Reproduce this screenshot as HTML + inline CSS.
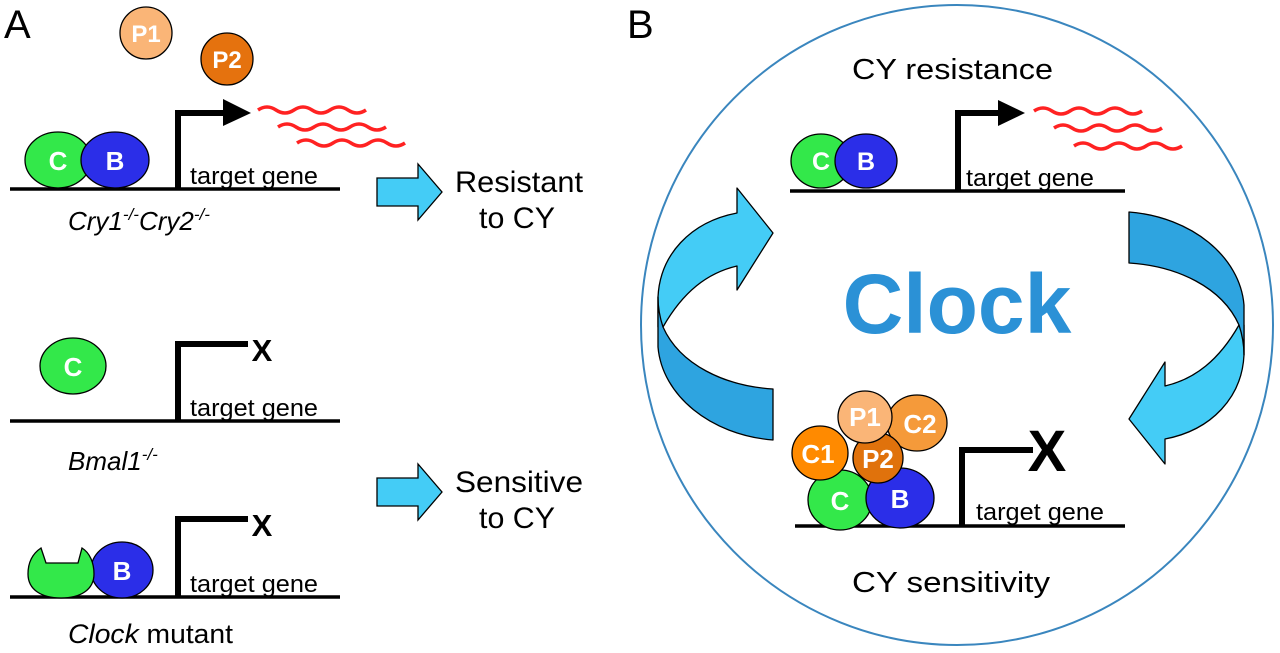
<!DOCTYPE html>
<html><head><style>body{margin:0;background:#fff}svg{display:block}text{font-family:"Liberation Sans",Arial,sans-serif}</style></head><body>
<svg width="1280" height="653" viewBox="0 0 1280 653" xmlns="http://www.w3.org/2000/svg">
<defs>
<g id="larrow" stroke="#000" stroke-width="1.3" stroke-linejoin="round">
<path d="M737,213 L737,188 L773,233 L737,290 L737,266 C707,273 683,292 663,327 L658,327 L658,297 C660,255 690,222 737,213 Z" fill="#44CCF6"/>
<path d="M658,297 L658,347 C662,395 710,435 773,440 L773,389 C725,386 680,365 663,327 C660,318 658,308 658,297 Z" fill="#2EA4E0"/>
</g>
</defs>
<!-- Panel A -->
<text x="4" y="38" font-size="40">A</text>
<circle cx="146" cy="33" r="26" fill="#FAB577" stroke="#000" stroke-width="1.3"/>
<text x="146" y="42" font-size="24" font-weight="bold" fill="#fff" text-anchor="middle">P1</text>
<circle cx="227" cy="59" r="26" fill="#E5720E" stroke="#000" stroke-width="1.3"/>
<text x="227" y="68" font-size="24" font-weight="bold" fill="#fff" text-anchor="middle">P2</text>
<line x1="10" y1="189" x2="340" y2="189" stroke="#000" stroke-width="3.5"/>
<ellipse cx="58" cy="160" rx="33" ry="28" fill="#33E84A" stroke="#000" stroke-width="1.3"/>
<text x="58" y="170" font-size="26" font-weight="bold" fill="#fff" text-anchor="middle">C</text>
<ellipse cx="115" cy="160" rx="34" ry="28" fill="#2B2EE8" stroke="#000" stroke-width="1.3"/>
<text x="115" y="170" font-size="26" font-weight="bold" fill="#fff" text-anchor="middle">B</text>
<path d="M178,189 V113 H228" fill="none" stroke="#000" stroke-width="6"/>
<path d="M223,99 L251,113 L223,126 Z" fill="#000"/>
<text x="190" y="184" font-size="24" textLength="128" lengthAdjust="spacingAndGlyphs">target gene</text>
<g fill="none" stroke="#F22" stroke-width="3.5">
<path d="M258,110 q9,-6 18,0 t18,0 t18,0 t18,0 t18,0 t18,0"/>
<path d="M278,127 q9,-6 18,0 t18,0 t18,0 t18,0 t18,0 t18,0"/>
<path d="M297,143 q9,-6 18,0 t18,0 t18,0 t18,0 t18,0 t18,0"/>
</g>
<text x="68" y="230" font-size="26" font-style="italic">Cry1<tspan font-size="17" dy="-10">-/-</tspan><tspan dy="10">Cry2</tspan><tspan font-size="17" dy="-10">-/-</tspan></text>
<path d="M377,178 H418 V164 L442,192 L418,220 V206 H377 Z" fill="#44CCF6" stroke="#000" stroke-width="1.3"/>
<text x="455" y="192" font-size="30" textLength="128" lengthAdjust="spacingAndGlyphs">Resistant</text>
<text x="479" y="228" font-size="30" textLength="76" lengthAdjust="spacingAndGlyphs">to CY</text>

<line x1="10" y1="421" x2="340" y2="421" stroke="#000" stroke-width="3.5"/>
<ellipse cx="73" cy="366" rx="33" ry="28" fill="#33E84A" stroke="#000" stroke-width="1.3"/>
<text x="73" y="376" font-size="26" font-weight="bold" fill="#fff" text-anchor="middle">C</text>
<path d="M178,421 V344 H248" fill="none" stroke="#000" stroke-width="6"/>
<text x="262" y="361" font-size="31" font-weight="bold" text-anchor="middle">X</text>
<text x="190" y="416" font-size="24" textLength="128" lengthAdjust="spacingAndGlyphs">target gene</text>
<text x="68" y="470" font-size="26" font-style="italic">Bmal1<tspan font-size="17" dy="-10">-/-</tspan></text>
<path d="M377,478 H418 V464 L442,492 L418,520 V506 H377 Z" fill="#44CCF6" stroke="#000" stroke-width="1.3"/>
<text x="455" y="492" font-size="30" textLength="128" lengthAdjust="spacingAndGlyphs">Sensitive</text>
<text x="479" y="528" font-size="30" textLength="76" lengthAdjust="spacingAndGlyphs">to CY</text>

<line x1="10" y1="597" x2="340" y2="597" stroke="#000" stroke-width="3.5"/>
<ellipse cx="122" cy="570" rx="31" ry="28" fill="#2B2EE8" stroke="#000" stroke-width="1.3"/>
<text x="122" y="580" font-size="26" font-weight="bold" fill="#fff" text-anchor="middle">B</text>
<path d="M41,548 L46,563 L78,563 L82,548 C90,553 94,563 94,574 C94,590 80,598 61,598 C42,598 28,590 28,574 C28,563 32,554 41,548 Z" fill="#33E84A" stroke="#000" stroke-width="1.3"/>
<path d="M178,597 V519 H248" fill="none" stroke="#000" stroke-width="6"/>
<text x="262" y="536" font-size="31" font-weight="bold" text-anchor="middle">X</text>
<text x="190" y="592" font-size="24" textLength="128" lengthAdjust="spacingAndGlyphs">target gene</text>
<text x="68" y="643" font-size="27" textLength="165" lengthAdjust="spacingAndGlyphs"><tspan font-style="italic">Clock</tspan> mutant</text>

<!-- Panel B -->
<text x="627" y="38" font-size="40">B</text>
<ellipse cx="957" cy="325" rx="316" ry="320" fill="none" stroke="#3A86BE" stroke-width="2"/>
<text x="852" y="79" font-size="29" textLength="201" lengthAdjust="spacingAndGlyphs">CY resistance</text>
<line x1="790" y1="191" x2="1125" y2="191" stroke="#000" stroke-width="3.5"/>
<ellipse cx="821" cy="161" rx="30" ry="27" fill="#33E84A" stroke="#000" stroke-width="1.3"/>
<text x="821" y="170" font-size="25" font-weight="bold" fill="#fff" text-anchor="middle">C</text>
<ellipse cx="866" cy="161" rx="31" ry="27" fill="#2B2EE8" stroke="#000" stroke-width="1.3"/>
<text x="866" y="170" font-size="25" font-weight="bold" fill="#fff" text-anchor="middle">B</text>
<path d="M958,191 V113 H1002" fill="none" stroke="#000" stroke-width="6"/>
<path d="M998,100 L1025,113 L998,126 Z" fill="#000"/>
<text x="966" y="186" font-size="24" textLength="128" lengthAdjust="spacingAndGlyphs">target gene</text>
<g fill="none" stroke="#F22" stroke-width="3.5">
<path d="M1034,111 q9,-6 18,0 t18,0 t18,0 t18,0 t18,0 t18,0"/>
<path d="M1054,128 q9,-6 18,0 t18,0 t18,0 t18,0 t18,0 t18,0"/>
<path d="M1074,146 q9,-6 18,0 t18,0 t18,0 t18,0 t18,0 t18,0"/>
</g>
<text x="957" y="333" font-size="84" font-weight="bold" fill="#2B91D6" text-anchor="middle">Clock</text>
<use href="#larrow"/>
<use href="#larrow" transform="rotate(180 951 326)"/>

<line x1="795" y1="526" x2="1125" y2="526" stroke="#000" stroke-width="3.5"/>
<path d="M962,526 V450 H1033" fill="none" stroke="#000" stroke-width="6"/>
<text x="1047" y="471" font-size="58" font-weight="bold" text-anchor="middle">X</text>
<text x="976" y="520" font-size="24" textLength="128" lengthAdjust="spacingAndGlyphs">target gene</text>
<ellipse cx="840" cy="500" rx="32" ry="30" fill="#33E84A" stroke="#000" stroke-width="1.3"/>
<text x="840" y="510" font-size="26" font-weight="bold" fill="#fff" text-anchor="middle">C</text>
<ellipse cx="900" cy="498" rx="34" ry="30" fill="#2B2EE8" stroke="#000" stroke-width="1.3"/>
<text x="900" y="508" font-size="26" font-weight="bold" fill="#fff" text-anchor="middle">B</text>
<ellipse cx="917" cy="423" rx="30" ry="28" fill="#F59A3A" stroke="#000" stroke-width="1.3"/>
<text x="920" y="433" font-size="26" font-weight="bold" fill="#fff" text-anchor="middle">C2</text>
<ellipse cx="820" cy="453" rx="28" ry="27" fill="#FF8A00" stroke="#000" stroke-width="1.3"/>
<text x="818" y="463" font-size="26" font-weight="bold" fill="#fff" text-anchor="middle">C1</text>
<ellipse cx="878" cy="458" rx="25" ry="25" fill="#E0720C" stroke="#000" stroke-width="1.3"/>
<text x="878" y="468" font-size="26" font-weight="bold" fill="#fff" text-anchor="middle">P2</text>
<ellipse cx="865" cy="417" rx="27" ry="26" fill="#FAB577" stroke="#000" stroke-width="1.3"/>
<text x="865" y="426" font-size="26" font-weight="bold" fill="#fff" text-anchor="middle">P1</text>
<text x="852" y="592" font-size="29" textLength="198" lengthAdjust="spacingAndGlyphs">CY sensitivity</text>
</svg>
</body></html>
